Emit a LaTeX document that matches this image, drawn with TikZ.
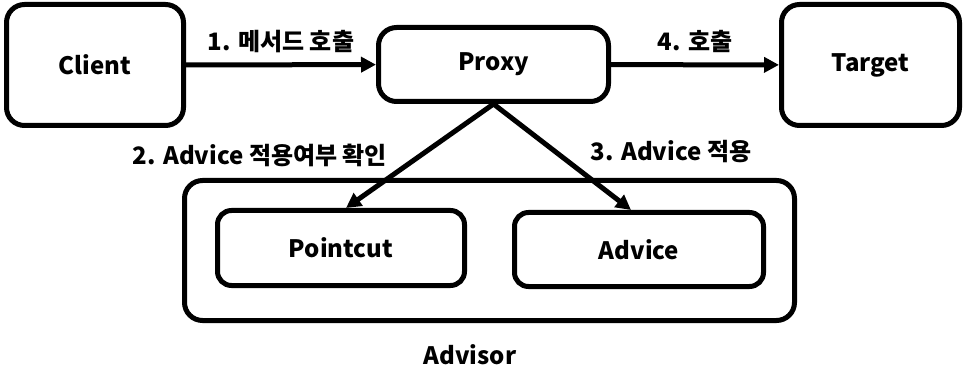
\documentclass[tikz,border=0pt]{standalone}
\usepackage{fontspec}
\setmainfont{Noto Sans CJK KR}
\usetikzlibrary{arrows.meta}

\tikzset{
    box/.style={draw, line width=5pt, rounded corners=18pt, align=center},
    inbox/.style={draw, line width=5pt, rounded corners=14pt, align=center},
    lbl/.style={font=\fontsize{24}{28}\selectfont\bfseries},
    >={Triangle[length=15pt, width=15pt]}
}

\begin{document}
\begin{tikzpicture}[x=1pt, y=-1pt, font=\fontsize{24}{28}\selectfont\bfseries]
    \useasboundingbox (0,0) rectangle (964,382);

    \node[box, minimum width=177pt, minimum height=121pt] (client) at (95,65) {Client};
    \node[box, minimum width=230pt, minimum height=74pt] (proxy) at (493.5,64.5) {Proxy};
    \node[box, minimum width=178pt, minimum height=121pt] (target) at (870.5,65) {Target};
    \node[box, minimum width=610pt, minimum height=140pt] (advisor) at (489.5,250.5) {};
    \node[inbox, minimum width=247pt, minimum height=75pt] (pointcut) at (341,248) {Pointcut};
    \node[inbox, minimum width=249pt, minimum height=74pt] (advice) at (639,249.5) {Advice};
    \node (advisorlbl) at (470,355) {Advisor};

    \draw[->, line width=5pt] (client) -- node[lbl, above=6pt] {1. 메서드 호출} (proxy);
    \draw[->, line width=5pt] (proxy) -- node[lbl, above=6pt] {4. 호출} (target);
    \draw[->, line width=5pt] (proxy.south) -- ([xshift=5pt]pointcut.north);
    \draw[->, line width=5pt] (proxy.south) -- ([xshift=-8pt]advice.north);

    \node[lbl] (step2) at (260,155) {2. Advice 적용여부 확인};
    \node[lbl] (step3) at (671,152) {3. Advice 적용};
\end{tikzpicture}
\end{document}
